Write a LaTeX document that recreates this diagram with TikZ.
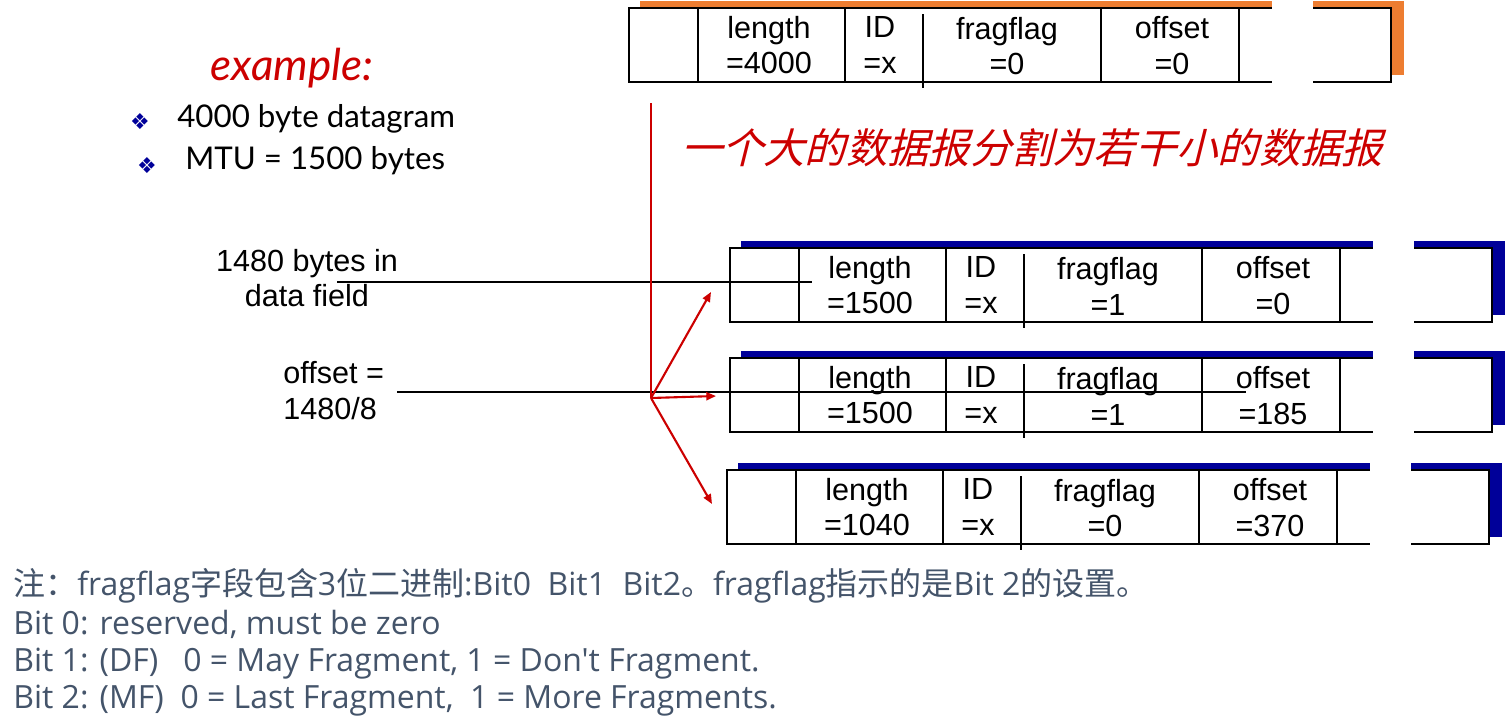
\documentclass[tikz,border=0pt]{standalone}
\usepackage{fontspec}
\setmainfont{Liberation Sans}
\newfontfamily\cjk{Noto Sans CJK SC}
\newfontfamily\cjkslant[FakeSlant=0.25]{Noto Sans CJK SC}
\newfontfamily\gill{Lato}
\newfontfamily\notefont{Open Sans}
\newfontfamily\dingfont{DejaVu Sans}
\usetikzlibrary{arrows.meta, positioning, calc}
\definecolor{softred}{RGB}{204,0,0}
\definecolor{shadoworange}{RGB}{237,125,49}
\definecolor{shadowblue}{RGB}{0,0,153}
\definecolor{notegray}{RGB}{68,84,106}
\definecolor{bulletblue}{RGB}{0,0,153}

\tikzset{
  pktline/.style={line width=1.6pt},
  field/.style={inner sep=0pt, align=center, font=\fontsize{17.4}{20.4}\selectfont},
  sidelabel/.style={inner sep=0pt, font=\fontsize{17.4}{20.4}\selectfont},
  pointer/.style={line width=1.1pt},
  split/.style={softred, line width=1.2pt},
  splitarrow/.style={split, -{Triangle[length=5.5pt, width=4.5pt]}},
  bulletmark/.style={inner sep=0pt, text=bulletblue, font=\dingfont\fontsize{12.5}{12}\selectfont},
  bullettext/.style={inner sep=0pt, anchor=west, font=\gill\fontsize{17.8}{20}\selectfont},
  note/.style={inner sep=0pt, anchor=base west, text=notegray, font=\notefont\fontsize{18.2}{20}\selectfont}
}

% one datagram: name, x, y, shadow colour, length, fragflag, offset
\newcommand{\pktbox}[7]{%
  \begin{scope}[shift={(#2,#3)}]
    \fill[#4] (11,-7) rectangle (775,67);
    \draw[pktline, fill=white] (0,0) rectangle (762,74);
    \draw[pktline] (69,0) -- (69,74) (216,0) -- (216,74)
                   (472,0) -- (472,74) (610,0) -- (610,74);
    \draw[pktline] (294,6) -- (294,80);
    \fill[white] (643,-10) rectangle (684,80);
    \node[field] (#1-len)  at (140,37) {length\\=#5};
    \node[field] (#1-id)   at (251,37) {ID\\=x};
    \node[field] (#1-flag) at (378,38) {fragflag\\=#6};
    \node[field] (#1-off)  at (543,38) {offset\\=#7};
  \end{scope}}

\begin{document}
\begin{tikzpicture}[x=0.02cm, y=-0.02cm]
  \useasboundingbox (0,0) rectangle (1505,724);

  % original datagram
  \pktbox{orig}{629}{8}{shadoworange}{4000}{0}{0}

  % example text
  \node[softred, inner sep=0pt, font=\gill\itshape\fontsize{25}{26}\selectfont] (exlbl) at (292,68) {example:};
  \node[bulletmark] (b1) at (140,122) {❖};
  \node[bullettext] (t1) at (177,119) {4000 byte datagram};
  \node[bulletmark] (b2) at (147,166) {❖};
  \node[bullettext] (t2) at (185,161) {MTU = 1500 bytes};

  % title
  \node[softred, inner sep=0pt, font=\cjkslant\fontsize{23.5}{24}\selectfont] (title) at (1032,148) {一个大的数据报分割为若干小的数据报};

  % fragments
  \pktbox{frag1}{730}{248}{shadowblue}{1500}{1}{0}
  \pktbox{frag2}{730}{358}{shadowblue}{1500}{1}{185}
  \pktbox{frag3}{727}{470}{shadowblue}{1040}{0}{370}

  % side labels and pointer lines
  \node[sidelabel, align=center] (datalbl) at (307,278) {1480 bytes in\\data field};
  \node[sidelabel, align=left, anchor=west] (offlbl) at (283,391) {offset =\\1480/8};
  \coordinate (dataL) at (337,282);
  \coordinate (dataR) at (812,282);
  \coordinate (offL) at (397,392);
  \coordinate (offR) at (1246,392);
  \draw[pointer] (dataL) -- (dataR);
  \draw[pointer] (offL) -- (offR);

  % split arrows
  \coordinate (splittop) at (651,103);
  \coordinate (splitpt) at (651,398);
  \coordinate (tip1) at (711,292);
  \coordinate (tip2) at (716,396);
  \coordinate (tip3) at (712,504);
  \draw[split] (splittop) -- (splitpt);
  \draw[splitarrow] (splitpt) -- (tip1);
  \draw[splitarrow] (splitpt) -- (tip2);
  \draw[splitarrow] (splitpt) -- (tip3);

  % notes
  \node[note] (note1) at (13,595) {{\cjk 注：}fragflag{\cjk 字段包含}3{\cjk 位二进制}:Bit0~~Bit1~~Bit2{\cjk 。}fragflag{\cjk 指示的是}Bit 2{\cjk 的设置。}};
  \node[note] (note2) at (13,634) {Bit 0: reserved, must be zero};
  \node[note] (note3) at (13,671) {Bit 1: (DF)~~~0 = May Fragment, 1 = Don't Fragment.};
  \node[note] (note4) at (13,708) {Bit 2: (MF)~~0 = Last Fragment,~~1 = More Fragments.};
\end{tikzpicture}
\end{document}
